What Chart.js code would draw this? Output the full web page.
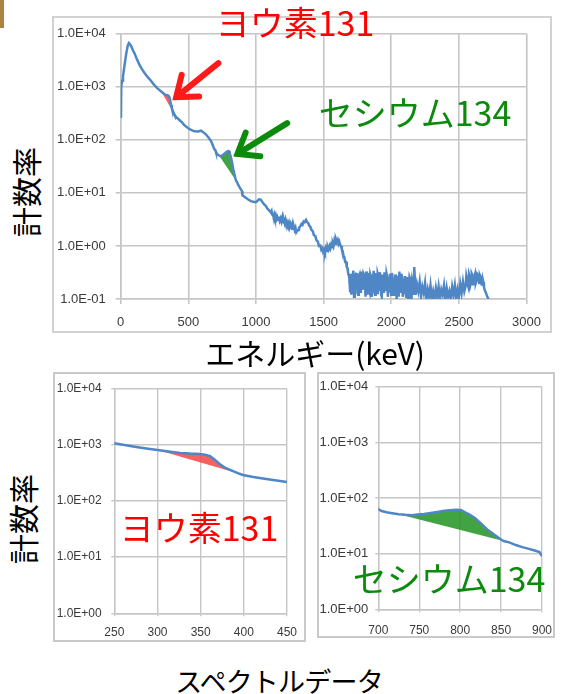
<!DOCTYPE html>
<html>
<head>
<meta charset="utf-8">
<script src="https://cdn.jsdelivr.net/npm/chart.js@4"></script>
<style>
  body { margin:0; width:563px; height:694px; background:#fff; position:relative; overflow:hidden;
         font-family:'Noto Sans CJK JP','Noto Sans',sans-serif; }
  .box { position:absolute; box-sizing:border-box; border:2px solid #d2d2d2; }
  .cv  { position:absolute; }
  .lbl { position:absolute; white-space:nowrap; line-height:1; transform:translate(-50%,-50%); }
  .vert { transform:translate(-50%,-50%) rotate(-90deg); }
</style>
</head>
<body>
<div style="position:absolute;left:0;top:0;width:4px;height:28px;background:#a8843f"></div>

<div class="box" style="left:52px;top:16px;width:500px;height:317px"></div>
<canvas class="cv" id="main" width="500" height="317" style="left:52px;top:16px"></canvas>

<div class="box" style="left:53px;top:372px;width:253px;height:270px;border-color:#c9c9c9"></div>
<canvas class="cv" id="iodine" width="253" height="270" style="left:53px;top:372px"></canvas>

<div class="box" style="left:317px;top:372px;width:238px;height:266px;border-color:#c9c9c9"></div>
<canvas class="cv" id="cesium" width="246" height="266" style="left:317px;top:372px"></canvas>

<div class="lbl" style="left:295px;top:22px;font-size:34px;color:#ff0000">ヨウ素131</div>
<div class="lbl" style="left:415px;top:112px;font-size:34px;color:#0b8a0b">セシウム134</div>
<div class="lbl vert" style="left:25px;top:192px;font-size:30px;color:#000">計数率</div>
<div class="lbl" style="left:315px;top:352px;font-size:30px;color:#000">エネルギー(keV)</div>

<div class="lbl vert" style="left:22px;top:519px;font-size:30px;color:#000">計数率</div>
<div class="lbl" style="left:199px;top:527px;font-size:34px;color:#ff0000">ヨウ素131</div>
<div class="lbl" style="left:449px;top:578px;font-size:34px;color:#0b8a0b">セシウム134</div>

<div class="lbl" style="left:279px;top:680px;font-size:27px;letter-spacing:-0.8px;color:#000">スペクトルデータ</div>

<script>
// Gamma-ray spectrum: [energy keV, count rate]
const spectrum = [
  [2,260],[4,1000],[10,1300],[17,1600],[29,2600],[41,4250],[52,6000],[61,6700],[70,6300],[80,5700],
  [90,4900],[103,4250],[120,3300],[139,2600],[157,2150],[176,1820],[200,1520],[225,1290],
  [250,1069],[260,1010],[272,936],[285,875],[300,815],[313,765],[326,718],[338,700],[349,690],
  [355,672],[361,629],[366,551],[372,458],[378,395],[384,360],[391,324],[395,306],[399,292],
  [411,269],[426,248],[438,232],[450,218],
  [470,190],[497,167],[520,155],[545,145],[570,144],[594,149],[610,140],[631,126],[650,110],
  [668,95],[680,80],[692,67],
  [700,63.4],[704,58.5],[710,55.4],[717,53.3],[725,51.2],[733,49.9],[741,49.2],[748,50.5],
  [756,51.9],[764,54.0],[772,56.2],[779,58.5],[787,60.1],[795,61.7],[801,60.9],[806,55.5],
  [812,49.9],[818,43.7],[826,34.3],[833,27.3],[841,22.3],[849,18.3],[853,16.9],[860,16.0],
  [868,14.3],[876,13.1],[884,12.2],[891,11.4],[897,10.7],[900,9.0],
  [912,8.6],[925,8.1],[940,7.6],[962,7.0],[980,6.8],[998,6.7],[1010,7.0],[1022,7.6],[1035,7.5],
  [1050,6.6],[1062,6.0],[1072,5.7],[1081,5.2],[1090,4.9],[1100,4.6],
  [1109,4.3],[1115,4.6],[1120,3.9],[1125,4.1],[1130,3.5],[1135,3.9],[1140,3.4],[1146,3.8],
  [1152,3.2],[1158,3.5],[1164,3.1],[1170,3.6],[1176,3.0],[1182,3.3],[1188,2.9],[1194,3.4],
  [1200,2.8],[1206,3.1],[1212,2.7],[1218,3.1],[1224,2.5],[1230,2.8],[1236,2.5],[1243,2.8],
  [1249,2.3],[1255,2.6],[1261,2.3],[1268,2.6],[1274,2.1],[1280,2.3],[1286,2.0],[1292,2.2],
  [1298,1.8],[1304,1.9],[1311,2.0],[1318,2.2],[1326,2.3],[1336,2.6],[1344,2.5],[1352,2.9],
  [1360,2.8],[1370,3.1],[1378,2.8],[1386,2.7],[1394,2.4],[1402,2.3],[1410,2.0],[1420,1.9],
  [1428,1.6],[1439,1.55],[1446,1.3],[1458,1.2],[1465,1.0],[1476,1.02],[1483,0.85],[1490,0.9],
  [1496,0.78],[1503,0.86],[1510,0.76],[1517,0.92],[1525,0.8],[1531,0.95],[1537,0.86],[1544,1.0],
  [1550,0.9],[1556,1.05],[1562,0.95],[1568,1.1],[1573,1.0],[1579,1.25],[1585,1.1],[1591,1.35],
  [1598,1.2],[1604,1.3],[1610,1.1],[1616,1.2],[1622,1.05],[1629,1.0],[1635,0.85],[1641,0.8],
  [1647,0.65],[1653,0.62],[1660,0.5],[1666,0.5],[1671,0.4],[1677,0.38],[1682,0.3],[1689,0.26],
  [1696,0.14],[1702,0.3],
  [1705,0.12],[1710,0.22],[1715,0.28],[1720,0.34],[1725,0.11],[1730,0.16],[1735,0.25],[1740,0.30],
  [1745,0.31],[1750,0.13],[1755,0.12],[1760,0.27],[1765,0.29],[1770,0.19],[1775,0.13],[1780,0.33],
  [1785,0.24],[1790,0.15],[1795,0.30],[1800,0.28],[1805,0.20],[1810,0.11],[1815,0.33],[1820,0.25],
  [1825,0.12],[1830,0.31],[1835,0.16],[1840,0.14],[1845,0.29],[1850,0.26],[1855,0.11],[1860,0.17],
  [1865,0.22],[1870,0.34],[1875,0.14],[1880,0.12],[1885,0.31],[1890,0.24],[1895,0.13],[1900,0.30],
  [1905,0.27],[1910,0.15],[1915,0.32],[1920,0.27],[1925,0.12],[1930,0.11],[1935,0.29],[1940,0.22],
  [1945,0.13],[1950,0.32],[1955,0.21],[1960,0.14],[1965,0.30],[1970,0.26],[1975,0.11],[1980,0.18],
  [1985,0.14],[1990,0.30],[1995,0.23],[2000,0.12],[2005,0.31],[2010,0.25],[2015,0.12],[2020,0.17],
  [2025,0.13],[2030,0.29],[2035,0.22],[2040,0.10],[2045,0.27],[2050,0.21],[2055,0.11],[2060,0.33],
  [2065,0.18],[2070,0.13],[2075,0.30],[2080,0.24],[2085,0.11],[2090,0.16],[2095,0.13],[2100,0.27],
  [2105,0.21],[2110,0.11],[2115,0.26],[2120,0.22],[2125,0.10],[2130,0.15],[2135,0.26],[2140,0.24],
  [2145,0.13],[2150,0.10],[2155,0.22],[2160,0.19],[2165,0.12],[2170,0.40],[2180,0.12],
  [2190,0.19],[2200,0.14],[2210,0.21],[2220,0.11],[2230,0.17],[2240,0.13],[2250,0.20],[2260,0.10],
  [2270,0.15],[2280,0.11],[2290,0.18],[2300,0.10],[2310,0.14],[2320,0.10],[2330,0.16],[2340,0.11],
  [2350,0.17],[2360,0.10],[2370,0.15],[2380,0.12],[2390,0.18],[2400,0.10],[2410,0.16],[2420,0.11],
  [2430,0.14],[2440,0.10],[2450,0.17],[2460,0.12],[2470,0.18],[2480,0.10],[2490,0.15],[2500,0.11],
  [2510,0.19],[2520,0.13],[2530,0.21],[2540,0.14],[2550,0.18],[2555,0.27],[2560,0.23],[2565,0.19],
  [2570,0.17],[2575,0.29],[2580,0.26],[2585,0.18],[2590,0.20],[2595,0.30],[2600,0.28],[2605,0.19],
  [2610,0.21],[2615,0.27],[2620,0.30],[2625,0.20],[2630,0.22],[2635,0.30],[2640,0.29],[2645,0.23],
  [2650,0.20],[2655,0.28],[2660,0.26],[2665,0.21],[2670,0.18],[2675,0.24],[2680,0.21],[2685,0.17],
  [2690,0.15],[2700,0.13],[2710,0.11],[2720,0.10]
];

// Peak regions: energy limits of the shaded area above the straight background line
const iodineBand = [300, 395];   // I-131 364 keV
const cesiumBand = [725, 853];   // Cs-134 796 keV

// Axis ticks
const mainXRange = [0, 3000, 500];
const iodineXRange = [250, 450, 50];
const cesiumXRange = [700, 900, 50];
const mainDecades = [0.1, 1, 10, 100, 1000, 10000];
const mainYLabels = ['1.0E-01','1.0E+00','1.0E+01','1.0E+02','1.0E+03','1.0E+04'];
const zoomDecades = [1, 10, 100, 1000, 10000];
const zoomYLabels = ['1.0E+00','1.0E+01','1.0E+02','1.0E+03','1.0E+04'];

// Annotation arrows (data coordinates: tail -> tip)
const mainArrows = [
  { from: [722, 2790], to: [410, 637], color: '#ff1a1a' },
  { from: [1231, 207], to: [863, 54.2], color: '#0b8a0b' }
];

const LINE = '#4f86c6';
const RED_FILL = 'rgba(245,70,70,0.85)';
const GREEN_FILL = 'rgba(40,150,40,0.88)';
const GRID = '#c6c6c6';

Chart.defaults.font.family = "'Liberation Sans', Arial, sans-serif";

const toXY = pts => pts.map(([x, y]) => ({ x, y }));
const inBand = band => toXY(spectrum.filter(p => p[0] >= band[0] && p[0] <= band[1]));
const bandBase = band => toXY(spectrum.filter(p => p[0] === band[0] || p[0] === band[1]));

function bandSets(band, color) {
  return [
    { data: inBand(band), borderWidth: 0, borderColor: 'transparent', backgroundColor: color,
      pointRadius: 0, fill: '+1', tension: 0 },
    { data: bandBase(band), borderWidth: 0, borderColor: 'transparent', pointRadius: 0, fill: false }
  ];
}

const arrowPlugin = {
  id: 'arrows',
  afterDatasetsDraw(chart, args, opts) {
    const list = opts.list || [];
    const { ctx, scales } = chart;
    list.forEach(a => {
      const x1 = scales.x.getPixelForValue(a.from[0]), y1 = scales.y.getPixelForValue(a.from[1]);
      const x2 = scales.x.getPixelForValue(a.to[0]), y2 = scales.y.getPixelForValue(a.to[1]);
      const ang = Math.atan2(y1 - y2, x1 - x2);
      const len = 23, spread = 0.65;
      ctx.save();
      ctx.strokeStyle = a.color;
      ctx.lineWidth = 6;
      ctx.lineCap = 'round';
      ctx.lineJoin = 'miter';
      ctx.beginPath();
      ctx.moveTo(x1, y1);
      ctx.lineTo(x2 + Math.cos(ang) * 3, y2 + Math.sin(ang) * 3);
      ctx.stroke();
      ctx.beginPath();
      ctx.moveTo(x2 + Math.cos(ang + spread) * len, y2 + Math.sin(ang + spread) * len);
      ctx.lineTo(x2, y2);
      ctx.lineTo(x2 + Math.cos(ang - spread) * len, y2 + Math.sin(ang - spread) * len);
      ctx.stroke();
      ctx.restore();
    });
  }
};

function makeChart(id, o) {
  const datasets = [
    { data: toXY(spectrum), borderColor: LINE, borderWidth: 2.5, pointRadius: 0, fill: false, tension: 0 }
  ];
  o.bands.forEach(b => datasets.push(...bandSets(b[0], b[1])));
  return new Chart(document.getElementById(id), {
    type: 'line',
    data: { datasets },
    plugins: [arrowPlugin],
    options: {
      responsive: false,
      animation: false,
      layout: { padding: o.padding },
      plugins: { legend: { display: false }, tooltip: { enabled: false }, arrows: { list: o.arrows || [] } },
      scales: {
        x: {
          type: 'linear', min: o.xr[0], max: o.xr[1],
          ticks: { stepSize: o.xr[2], color: '#3a3a3a', font: { size: o.xFont }, padding: o.xPad,
                   maxRotation: 0, callback: v => String(v) },
          grid: { color: GRID, lineWidth: o.gw, tickLength: o.tick },
          border: { color: GRID, width: o.gw },
          afterFit: s => { s.height = o.xHeight; }
        },
        y: {
          type: 'logarithmic', min: o.decades[0], max: o.decades[o.decades.length - 1],
          afterBuildTicks: s => { s.ticks = o.decades.map(v => ({ value: v })); },
          ticks: {
            color: '#3a3a3a', font: { size: o.yFont }, padding: o.yPad,
            callback: v => { const i = o.decades.findIndex(d => Math.abs(d - v) / d < 1e-6); return i >= 0 ? o.yLabels[i] : ''; }
          },
          grid: { color: GRID, lineWidth: o.gw, tickLength: o.tick },
          border: { color: GRID, width: o.gw },
          afterFit: s => { s.width = o.yWidth; }
        }
      }
    }
  });
}

makeChart('main', {
  xr: mainXRange, decades: mainDecades, yLabels: mainYLabels,
  padding: { left: 0, right: 22.7, top: 10.5, bottom: 0 },
  yWidth: 68.7, xHeight: 34, xFont: 13, yFont: 13, xPad: 11, yPad: 10, tick: 5, gw: 1.6,
  bands: [[iodineBand, RED_FILL], [cesiumBand, GREEN_FILL]],
  arrows: mainArrows
});

makeChart('iodine', {
  xr: iodineXRange, decades: zoomDecades, yLabels: zoomYLabels,
  padding: { left: 0, right: 18.7, top: 9.7, bottom: 0 },
  yWidth: 61.3, xHeight: 28.7, xFont: 12, yFont: 12, xPad: 9, yPad: 9.6, tick: 3, gw: 1.4,
  bands: [[iodineBand, RED_FILL]]
});

makeChart('cesium', {
  xr: cesiumXRange, decades: zoomDecades, yLabels: zoomYLabels,
  padding: { left: 0, right: 12.3, top: 8, bottom: 0 },
  yWidth: 61.3, xHeight: 28.7, xFont: 12, yFont: 13, xPad: 11, yPad: 7, tick: 3, gw: 1.4,
  bands: [[cesiumBand, GREEN_FILL]]
});
</script>
</body>
</html>
